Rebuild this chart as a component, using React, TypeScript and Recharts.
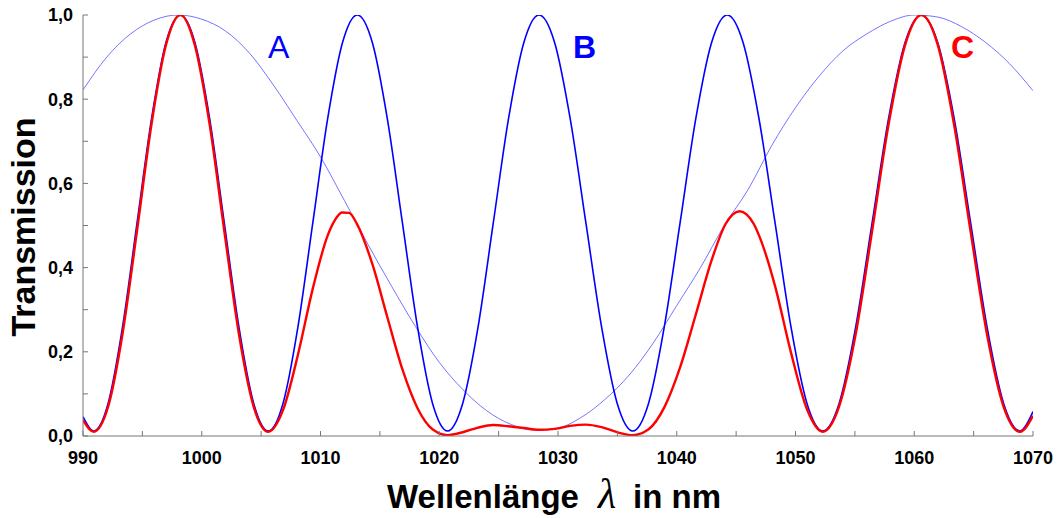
import { LineChart, Line, XAxis, YAxis } from "recharts";

// Kurve A: breites Filter (dünn, blau)
const aX = [990, 992, 994, 996, 998, 1000, 1002, 1004, 1006, 1008, 1010, 1012, 1014, 1016, 1018, 1020, 1022, 1024, 1026, 1028, 1030, 1032, 1034, 1036, 1038, 1040, 1042, 1044, 1046, 1048, 1050, 1052, 1054, 1056, 1058, 1060, 1062, 1064, 1066, 1068, 1070];
const aY = [0.822, 0.9, 0.955, 0.988, 1.0, 0.99, 0.962, 0.91, 0.835, 0.75, 0.663, 0.56, 0.455, 0.355, 0.26, 0.175, 0.11, 0.06, 0.028, 0.014, 0.019, 0.045, 0.088, 0.145, 0.22, 0.31, 0.4, 0.5, 0.585, 0.69, 0.78, 0.855, 0.915, 0.955, 0.985, 1.0, 0.995, 0.972, 0.935, 0.885, 0.82];

// Kurve B: schmales Filter
const bX = [990, 990.9, 992.12, 993.33, 994.55, 995.77, 996.98, 998.2, 999.43, 1000.67, 1001.9, 1003.13, 1004.37, 1005.6, 1006.85, 1008.1, 1009.35, 1010.6, 1011.85, 1013.1, 1014.37, 1015.63, 1016.9, 1018.17, 1019.43, 1020.7, 1021.98, 1023.27, 1024.55, 1025.83, 1027.12, 1028.4, 1029.72, 1031.03, 1032.35, 1033.67, 1034.98, 1036.3, 1037.63, 1038.95, 1040.28, 1041.6, 1042.93, 1044.25, 1045.59, 1046.93, 1048.28, 1049.62, 1050.96, 1052.3, 1053.68, 1055.07, 1056.45, 1057.83, 1059.22, 1060.6, 1061.98, 1063.37, 1064.75, 1066.13, 1067.52, 1068.9, 1070];
const bY = [0.046, 0.012, 0.078, 0.259, 0.506, 0.753, 0.934, 1.0, 0.934, 0.753, 0.506, 0.259, 0.078, 0.012, 0.078, 0.259, 0.506, 0.753, 0.934, 1.0, 0.934, 0.753, 0.506, 0.259, 0.078, 0.012, 0.078, 0.259, 0.506, 0.753, 0.934, 1.0, 0.934, 0.753, 0.506, 0.259, 0.078, 0.012, 0.078, 0.259, 0.506, 0.753, 0.934, 1.0, 0.934, 0.753, 0.506, 0.259, 0.078, 0.012, 0.078, 0.259, 0.506, 0.753, 0.934, 1.0, 0.934, 0.753, 0.506, 0.259, 0.078, 0.012, 0.058];

// Kurve C: Kombination (rot)
const cX = [990, 990.9, 992.12, 993.33, 994.55, 995.77, 996.98, 998.2, 999.43, 1000.67, 1001.9, 1003.13, 1004.37, 1005.6, 1006.85, 1008.1, 1009.35, 1010.6, 1011.2, 1011.8, 1012.4, 1013.1, 1014.37, 1015.63, 1016.9, 1018.17, 1019.43, 1020.7, 1021.98, 1023.27, 1024.55, 1025.83, 1027.12, 1028.4, 1029.72, 1031.03, 1032.35, 1033.67, 1034.98, 1036.3, 1037.63, 1038.95, 1040.28, 1041.6, 1042.93, 1044.1, 1044.7, 1045.3, 1045.9, 1046.5, 1047.1, 1048.28, 1049.62, 1050.96, 1052.3, 1053.68, 1055.07, 1056.45, 1057.83, 1059.22, 1060.6, 1061.98, 1063.37, 1064.75, 1066.13, 1067.52, 1068.9, 1070];
const cY = [0.038, 0.01, 0.07, 0.243, 0.488, 0.741, 0.928, 1.0, 0.927, 0.739, 0.487, 0.242, 0.07, 0.01, 0.062, 0.193, 0.35, 0.476, 0.512, 0.531, 0.53, 0.502, 0.408, 0.282, 0.158, 0.066, 0.016, 0.002, 0.009, 0.02, 0.026, 0.023, 0.019, 0.015, 0.017, 0.024, 0.027, 0.021, 0.009, 0.002, 0.016, 0.068, 0.163, 0.288, 0.417, 0.503, 0.526, 0.534, 0.526, 0.503, 0.464, 0.356, 0.198, 0.064, 0.01, 0.071, 0.242, 0.487, 0.739, 0.928, 1.0, 0.929, 0.737, 0.485, 0.241, 0.07, 0.01, 0.048];

const xTicks = [990, 995, 1000, 1005, 1010, 1015, 1020, 1025, 1030, 1035, 1040, 1045, 1050, 1055, 1060, 1065, 1070];
const yTicks = [0, 0.1, 0.2, 0.3, 0.4, 0.5, 0.6, 0.7, 0.8, 0.9, 1.0];

const dataA = aX.map((x, i) => ({ x, y: aY[i] }));
const dataB = bX.map((x, i) => ({ x, y: bY[i] }));
const dataC = cX.map((x, i) => ({ x, y: cY[i] }));

const font = "'Liberation Sans', Arial, sans-serif";
const frame = "#777777";
const tickStyle = { fill: "#000", fontSize: 18, fontWeight: "bold", fontFamily: font };

export default function App() {
  return (
    <div style={{ position: "relative", width: 1058, height: 518, fontFamily: font, background: "#fff" }}>
      <style>{`body{margin:0}`}</style>
      <LineChart width={1058} height={518} margin={{ top: 15, right: 25, left: 23, bottom: 52 }}>
        <XAxis
          xAxisId="b"
          type="number"
          dataKey="x"
          domain={[990, 1070]}
          allowDataOverflow
          ticks={xTicks}
          interval={0}
          height={30}
          tickSize={-5}
          tickMargin={20}
          stroke={frame}
          tick={tickStyle}
          tickFormatter={(v: number) => (v % 10 === 0 ? String(v) : "")}
        />
        <XAxis
          xAxisId="t"
          orientation="top"
          type="number"
          dataKey="x"
          domain={[990, 1070]}
          allowDataOverflow
          ticks={xTicks}
          interval={0}
          height={0}
          tickSize={-5}
          stroke={frame}
          tick={false}
        />
        <YAxis
          yAxisId="l"
          type="number"
          domain={[0, 1]}
          allowDataOverflow
          ticks={yTicks}
          interval={0}
          width={60}
          tickSize={-5}
          tickMargin={15}
          stroke={frame}
          tick={tickStyle}
          tickFormatter={(v: number) => (Math.round(v * 10) % 2 === 0 ? v.toFixed(1).replace(".", ",") : "")}
        />
        <YAxis
          yAxisId="r"
          orientation="right"
          type="number"
          domain={[0, 1]}
          allowDataOverflow
          ticks={yTicks}
          interval={0}
          width={0}
          tickSize={-5}
          stroke={frame}
          tick={false}
        />
        <Line xAxisId="b" yAxisId="l" data={dataA} dataKey="y" type="monotone" stroke="#3a3aff" strokeWidth={0.7} dot={false} activeDot={false} isAnimationActive={false} />
        <Line xAxisId="t" yAxisId="r" data={dataA} dataKey="y" type="monotone" stroke="none" dot={false} activeDot={false} isAnimationActive={false} />
        <Line xAxisId="b" yAxisId="l" data={dataB} dataKey="y" type="monotone" stroke="#0000ff" strokeWidth={1.6} dot={false} activeDot={false} isAnimationActive={false} />
        <Line xAxisId="b" yAxisId="l" data={dataC} dataKey="y" type="monotone" stroke="#ff0000" strokeWidth={2.4} dot={false} activeDot={false} isAnimationActive={false} />
      </LineChart>
      <svg width={1058} height={518} style={{ position: "absolute", left: 0, top: 0, pointerEvents: "none" }}>
        <text x={35} y={227} transform="rotate(-90 35 227)" textAnchor="middle" fontFamily={font} fontWeight="bold" fontSize={34} fill="#000">
          Transmission
        </text>
        <text x={387} y={508} fontFamily={font} fontWeight="bold" fontSize={33} fill="#000">
          Wellenlänge
        </text>
        <text x={607} y={508} textAnchor="middle" fontFamily="'Liberation Serif', 'DejaVu Serif', serif" fontStyle="italic" fontSize={42} fill="#000">
          λ
        </text>
        <text x={633} y={508} fontFamily={font} fontWeight="bold" fontSize={33} fill="#000">
          in nm
        </text>
        <text x={268} y={58} fontFamily={font} fontSize={32} fill="#0000ff">
          A
        </text>
        <text x={573} y={58} fontFamily={font} fontWeight="bold" fontSize={32} fill="#0000ff">
          B
        </text>
        <text x={951} y={58} fontFamily={font} fontWeight="bold" fontSize={32} fill="#ff0000">
          C
        </text>
      </svg>
    </div>
  );
}
